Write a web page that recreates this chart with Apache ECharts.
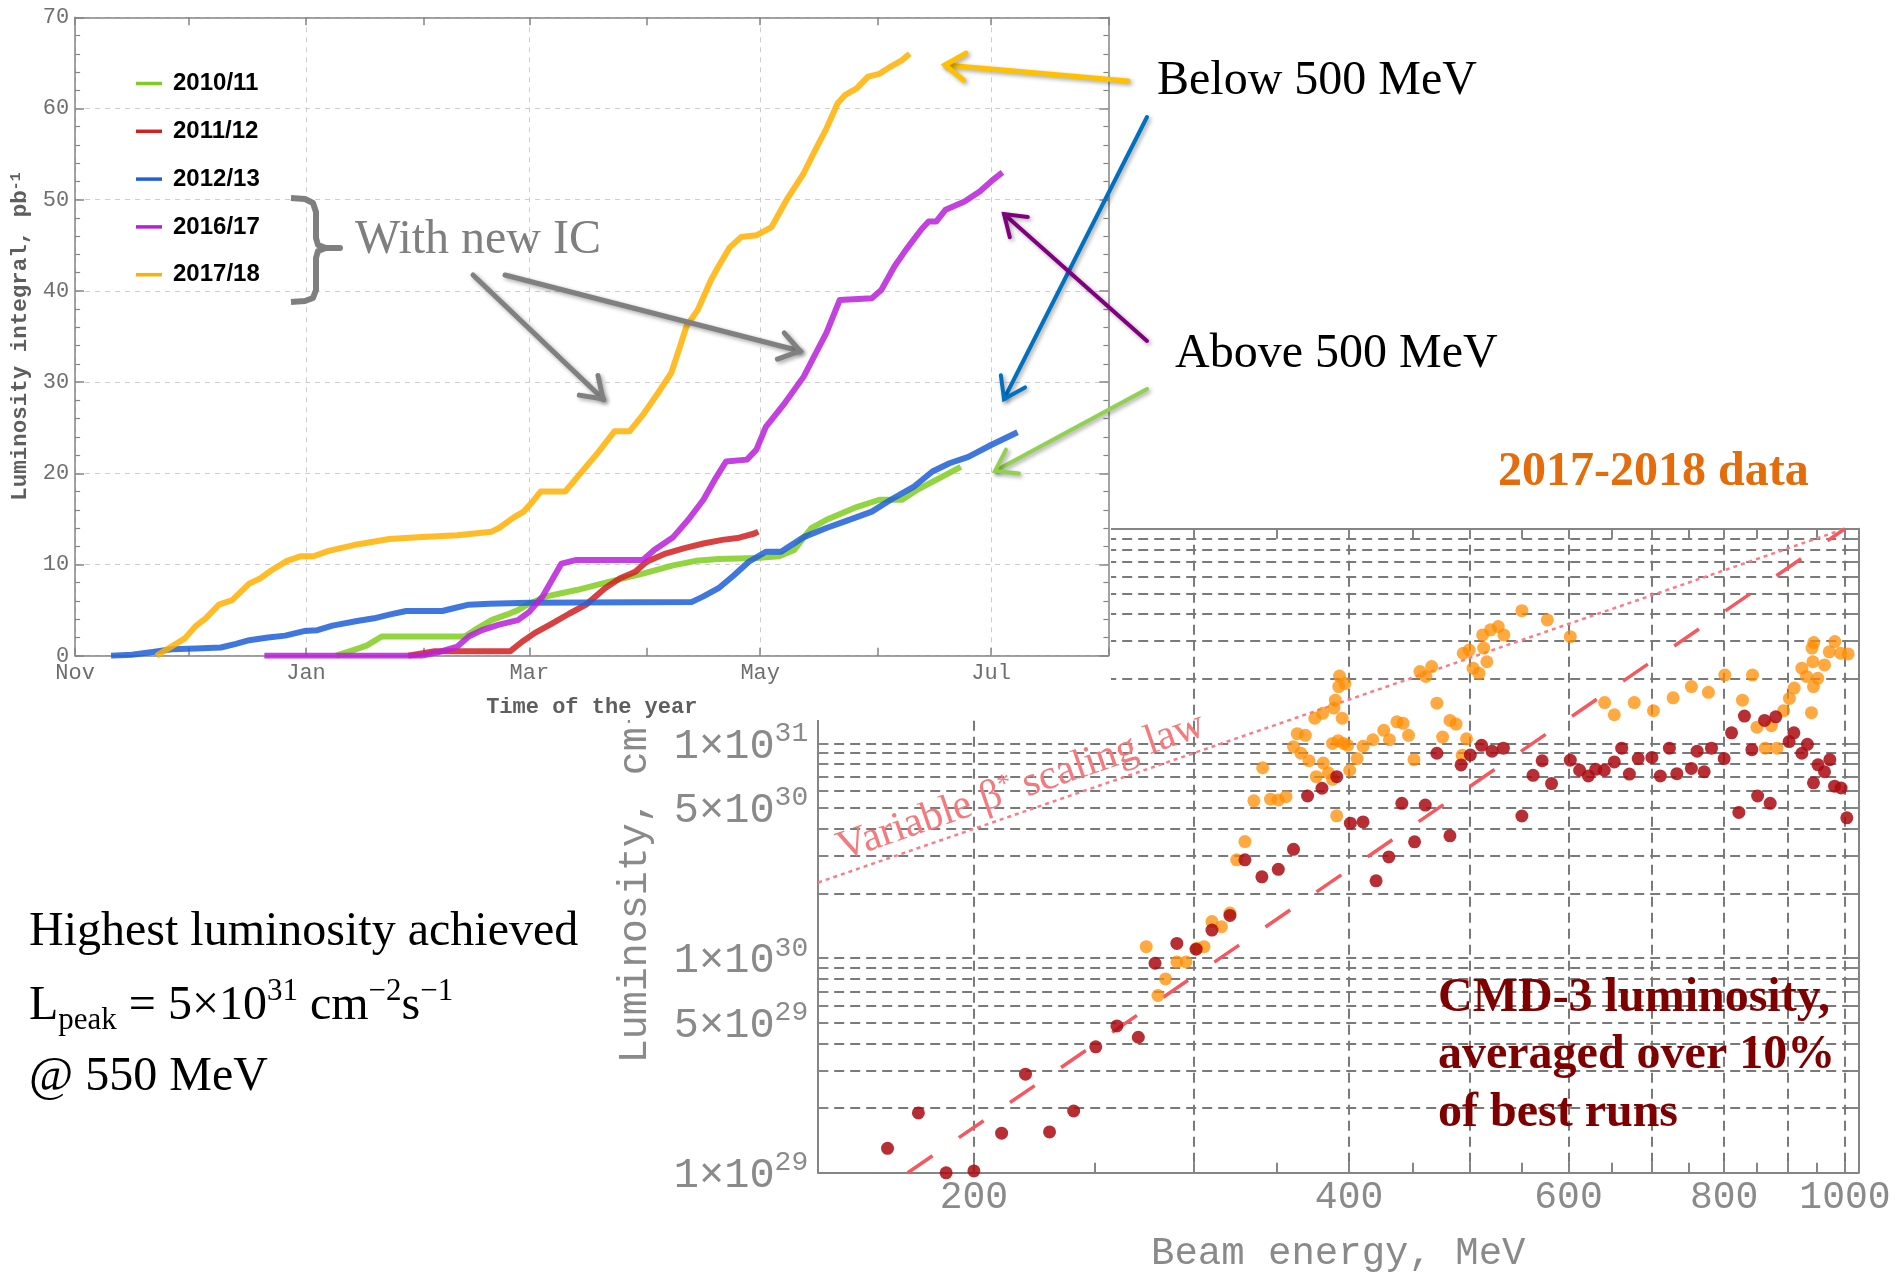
<!DOCTYPE html>
<html>
<head>
<meta charset="utf-8">
<script src="https://cdn.jsdelivr.net/npm/echarts@6/dist/echarts.min.js"></script>
<style>
html, body { margin: 0; padding: 0; background: #fff; }
#main { width: 1897px; height: 1273px; }
</style>
</head>
<body>
<div id="main"></div>
<script>
// ---------- Integrated luminosity per season: [days since 1 November, pb^-1] ----------
const seasonNames = ['2010/11', '2011/12', '2012/13', '2016/17', '2017/18'];
const seasonColors = ['#80cc20', '#d02020', '#1f5fd8', '#b820d8', '#ffb000'];

const lumi2010_11 = [[69,0],[73.5,0.6],[77,1.1],[81,2.1],[103,2.1],[105.5,2.8],[110,3.9],[114,4.5],[117,5.0],[120,5.7],[124.5,6.5],[132.5,7.2],[141,8.1],[150,9.0],[158,9.9],[164,10.4],[170,10.6],[180,10.7],[186,10.9],[190,11.6],[194.5,14.0],[198.5,14.9],[206.5,16.3],[212.5,17.1],[218.5,17.1],[222.5,18.2],[229,19.6],[234,20.7]];
const lumi2011_12 = [[88,0],[95,0.5],[115,0.5],[118,1.5],[121.5,2.5],[125.5,3.4],[130.5,4.6],[135,5.6],[140,7.4],[144,8.5],[148,9.2],[151,10.3],[156,11.2],[161,11.8],[166,12.3],[171,12.7],[175,12.9],[179.5,13.4],[180.5,13.6]];
const lumi2012_13 = [[9.5,0],[15,0.1],[20.5,0.4],[25.5,0.7],[32,0.8],[38.5,0.9],[42.5,1.3],[46,1.7],[51,2.0],[55.5,2.2],[60.5,2.7],[64,2.8],[68,3.3],[74.5,3.8],[79,4.1],[83,4.5],[87.5,4.9],[97,4.9],[100,5.2],[104,5.6],[109.5,5.7],[120,5.8],[163,5.9],[166,6.5],[170,7.4],[174,8.8],[178,10.3],[182.5,11.4],[186.5,11.4],[192.5,13.0],[198.5,14.0],[204.5,14.9],[210.5,15.8],[215.5,17.1],[221.5,18.5],[226.5,20.2],[231,21.1],[236,21.8],[242,23.1],[249,24.5]];
const lumi2016_17 = [[50,0],[91.5,0],[96,0.4],[101,1.0],[104,2.1],[107.5,2.8],[112,3.4],[117,3.9],[120,4.8],[123.5,6.5],[126,8.3],[128.5,10.1],[132.5,10.5],[150,10.5],[153,11.6],[158,13.0],[162,14.9],[166,17.1],[169,19.3],[172,21.3],[177.5,21.5],[180,22.6],[182.5,25.1],[187.5,27.7],[192.5,30.6],[195.5,33.0],[198.5,35.4],[202,39.0],[210.5,39.2],[213,40.1],[216.5,42.7],[219.5,44.5],[223.5,46.7],[225.5,47.6],[227.5,47.6],[230,48.9],[235,49.8],[239,50.9],[242,52.0],[245,53.0]];
const lumi2017_18 = [[21.5,0],[29,1.9],[32,3.3],[34.5,4.1],[38,5.6],[41.5,6.1],[46,7.9],[49,8.5],[52,9.4],[56,10.4],[59.5,10.9],[63,10.9],[67,11.5],[74.5,12.2],[83,12.8],[90.5,13.0],[101,13.2],[110,13.6],[112,14.0],[116,15.2],[118.5,15.8],[120.5,16.7],[123,18.0],[129.5,18.0],[133.5,20.0],[138,22.2],[142.5,24.6],[146.5,24.6],[150,26.4],[154,28.8],[157.5,31.0],[159.5,33.5],[161.5,36.1],[164.5,37.9],[168,41.2],[170,42.7],[173,44.8],[176,45.9],[180,46.1],[184,47.0],[188,50.0],[192.5,52.9],[195.5,55.4],[198.5,57.8],[201.5,60.6],[203.5,61.5],[206.5,62.2],[209.5,63.5],[212.5,63.8],[215.5,64.6],[218.5,65.3],[220.5,66.0]];
const seasonData = [lumi2010_11, lumi2011_12, lumi2012_13, lumi2016_17, lumi2017_18];

// Month boundaries counted in days from 1 November
const monthTickDays = [0, 30, 61, 92, 120, 151, 181, 212, 242, 273];
const monthLabelDays = [0, 61, 120, 181, 242];
const monthLabels = ['Nov', 'Jan', 'Mar', 'May', 'Jul'];

// ---------- Luminosity vs beam energy: [beam energy MeV, L in 1e30 cm^-2 s^-1] ----------
const lumi2017_2018 = [[275,1.13],[281,0.67],[285,0.80],[291,0.96],[296,0.96],[302,1.11],[306,1.13],[310.5,1.48],[316,1.40],[321,1.62],[325,2.87],[330,3.49],[335.5,5.4],[341,7.7],[346,5.5],[351,5.45],[356,5.65],[361,9.66],[363.5,11.1],[369,10.9],[366,9.0],[371.5,8.3],[376.5,7.0],[381.5,8.1],[385,7.3],[388,6.8],[391,4.6],[375.5,13.1],[381,13.8],[389,14.6],[390,15.9],[392.5,18.4],[393,20.6],[397,19.0],[395,13.1],[388,10.0],[392,10.3],[396,10.0],[399,9.8],[400.5,7.5],[406,8.5],[410.5,9.7],[418,10.4],[426.5,11.5],[431,10.4],[437,12.6],[442,12.4],[446.5,10.9],[451,8.4],[456,21.6],[461,20.5],[466,22.8],[470.5,15.4],[475.5,10.7],[482,12.8],[487.5,12.3],[493,8.8],[497,10.5],[494,26.3],[499.5,27.2],[503,22.4],[508.5,21.2],[512,32.0],[513,27.8],[516,24.0],[519.5,33.8],[527,35.0],[532.5,32.0],[550.5,41.5],[577,37.6],[602,31.4],[641.5,15.5],[653,13.6],[677.5,15.5],[702,14.2],[728,16.3],[753,18.4],[777,17.3],[801,20.8],[827.5,15.9],[843,20.8],[850,11.9],[863,9.5],[873,12.1],[882,9.5],[893,14.2],[902.5,16.2],[910.5,18.1],[923.5,22.4],[931.5,20.5],[940,13.9],[941,27.8],[942.5,24.0],[944,29.5],[943.5,18.4],[951,20.1],[963,23.2],[971.5,26.7],[981.5,29.8],[992,26.3],[1006,26.1]];
const lumiBestRuns = [[170.5,0.130],[180.5,0.190],[190,0.100],[200,0.102],[210.5,0.153],[220,0.288],[230,0.155],[240.5,0.194],[250.5,0.386],[260.5,0.483],[271,0.428],[279.5,0.946],[291,1.17],[301.5,1.10],[310.5,1.35],[321,1.58],[330,2.87],[340.5,2.39],[351,2.59],[361,3.21],[370.5,5.69],[380.5,6.18],[391,7.0],[401,4.25],[410.5,4.31],[420.5,2.29],[430.5,2.96],[441,5.26],[451.5,3.48],[460.5,5.16],[470.5,9.0],[482,3.71],[492,7.94],[500.5,8.83],[511,9.8],[521,9.2],[532,9.5],[550.5,4.59],[562,7.1],[571.5,8.3],[581.5,6.5],[602,8.35],[612.5,7.5],[622.5,7.05],[631,7.57],[641,7.5],[653,8.2],[662,9.5],[671.5,7.2],[682.5,8.5],[700,8.6],[711,7.05],[723,9.5],[733,7.23],[753,7.65],[761,9.2],[771,7.38],[781.5,9.5],[800,8.5],[811,11.2],[822,4.77],[830.5,13.4],[842,9.35],[851,5.69],[862,12.8],[871,5.26],[880,13.3],[902,10.2],[910,11.2],[923.5,9.0],[933,9.9],[943.5,6.55],[951.5,7.95],[963,7.38],[972.5,8.4],[981,6.32],[993,6.2],[1003.5,4.5]];
// Variable beta* scaling laws (straight lines in log-log)
const scalingLawDotted = [[150, 2.25], [1000, 100]];
const scalingLawDashed = [[177, 0.1], [1000, 100]];

const energyTickValues = [150, 200, 250, 300, 350, 400, 450, 500, 550, 600, 650, 700, 750, 800, 850, 900, 950, 1000];
const energyGridValues = [200, 300, 400, 500, 600, 700, 800, 900, 1000];
const energyLabelValues = [200, 400, 600, 800, 1000];
const lumiGridValues = [0.1, 0.2, 0.3, 0.4, 0.5, 0.6, 0.7, 0.8, 0.9, 1, 2, 3, 4, 5, 6, 7, 8, 9, 10, 20, 30, 40, 50, 60, 70, 80, 90, 100];
const lumiLabelValues = [0.1, 0.5, 1, 5, 10, 50, 100];

// ---------- helpers ----------
const lg = Math.log10;
const toLogXY = pts => pts.map(([e, l]) => [lg(e), lg(l) + 30]);
const lumiExp = l => lg(l) + 30;
const monthNameByDay = {};
monthLabelDays.forEach((d, i) => { monthNameByDay[d] = monthLabels[i]; });

const mono = 'Liberation Mono';
const serif = 'Liberation Serif';
const frameGray = '#858585';
const labelGray = '#8a8a8a';

const eMin = lg(150), eMax = lg(1025);
const lMin = 29 - 1e-7, lMax = 32 + 1e-7;

function arrow(x1, y1, x2, y2, color, width) {
  const ang = Math.atan2(y2 - y1, x2 - x1);
  const head = 24, spread = 0.6;
  const p1 = [x2 - head * Math.cos(ang - spread), y2 - head * Math.sin(ang - spread)];
  const p2 = [x2 - head * Math.cos(ang + spread), y2 - head * Math.sin(ang + spread)];
  const look = { stroke: color, lineWidth: width, lineCap: 'round', lineJoin: 'miter',
    shadowBlur: 4, shadowColor: 'rgba(0,0,0,0.35)', shadowOffsetX: 2, shadowOffsetY: 2 };
  return [
    { type: 'line', z: 20, silent: true, shape: { x1, y1, x2, y2 }, style: look },
    { type: 'polyline', z: 20, silent: true, shape: { points: [p1, [x2, y2], p2] }, style: Object.assign({ fill: null }, look) }
  ];
}

function textEl(x, y, text, size, color, extra) {
  return { type: 'text', x, y, z: 20, silent: true,
    style: Object.assign({ text, fontFamily: serif, fontSize: size, fill: color, align: 'left', verticalAlign: 'middle' }, extra || {}) };
}

const graphics = [
  // white backing of the season plot, laid over the energy plot
  { type: 'rect', z: 10, silent: true, shape: { x: 0, y: 0, width: 1111, height: 720 }, style: { fill: '#fff' } },
  // brace grouping the two newest seasons
  { type: 'polyline', z: 20, silent: true,
    shape: { points: [[291,198],[305,199],[313,203],[316,212],[316,238],[318,245],[326,248],[340,248],[326,248],[318,251],[316,258],[316,290],[313,298],[305,301],[291,302]] },
    style: { stroke: '#7f7f7f', lineWidth: 6, fill: null, lineJoin: 'round', lineCap: 'butt' } },
  textEl(355, 240, 'With new IC', 48, '#7f7f7f'),
  textEl(1157, 81, 'Below 500 MeV', 48, '#000'),
  textEl(1175, 354, 'Above 500 MeV', 48, '#000'),
  textEl(1498, 473, '2017-2018 data', 48, '#e46c0a', { fontWeight: 'bold' }),
  textEl(1438, 1056, 'CMD-3 luminosity,\naveraged over 10%\nof best runs', 48, '#7f0000', { fontWeight: 'bold', lineHeight: 57.5 }),
  textEl(29, 932, 'Highest luminosity achieved', 48, '#000'),
  textEl(29, 1006, '{m|L}{sub|peak}{m| = 5×10}{sup|31}{m| cm}{sup|−2}{m|s}{sup|−1}', 48, '#000', {
    rich: {
      m: { fontFamily: serif, fontSize: 48, lineHeight: 60, fill: '#000' },
      sub: { fontFamily: serif, fontSize: 31, lineHeight: 30, verticalAlign: 'bottom', fill: '#000' },
      sup: { fontFamily: serif, fontSize: 31, lineHeight: 30, verticalAlign: 'top', fill: '#000' }
    }
  }),
  textEl(29, 1077, '@ 550 MeV', 48, '#000'),
  { type: 'text', x: 1021, y: 787, z: 20, silent: true, rotation: 19 * Math.PI / 180,
    style: { text: 'Variable β{s|*} scaling law', fontFamily: serif, fontSize: 42, fill: '#f47a7e', align: 'center', verticalAlign: 'middle',
      rich: { s: { fontFamily: serif, fontSize: 27, lineHeight: 26, verticalAlign: 'top', fill: '#f47a7e' } } } }
].concat(
  arrow(473, 275, 603, 399, '#808080', 5),
  arrow(505, 275, 800, 351, '#808080', 5),
  arrow(1128, 81, 945, 65, '#ffc000', 5),
  arrow(1147, 117, 1004, 399, '#0070c0', 4),
  arrow(1147, 341, 1004, 214, '#800080', 4),
  arrow(1147, 389, 995, 471, '#92d050', 4)
);

// ---------- axes ----------
const topTickStyle = { color: frameGray, width: 1.5 };
const xAxes = [
  { // season plot: monthly ticks + bottom frame
    type: 'value', gridIndex: 0, position: 'bottom', min: 0, max: 273, z: 11,
    axisLine: { show: true, onZero: false, lineStyle: { color: frameGray, width: 1.5 } },
    axisTick: { show: true, inside: true, length: 8, customValues: monthTickDays, lineStyle: topTickStyle },
    axisLabel: { show: false }, splitLine: { show: false }
  },
  { // season plot: month labels and grid
    type: 'value', gridIndex: 0, position: 'bottom', min: 0, max: 273, z: 11,
    axisLine: { show: false }, axisTick: { show: false, customValues: monthLabelDays },
    axisLabel: { show: true, customValues: monthLabelDays, showMinLabel: true, showMaxLabel: true,
      formatter: v => monthNameByDay[Math.round(v)] || '', fontFamily: mono, fontSize: 22, color: '#6e6e6e', margin: 6 },
    splitLine: { show: true, lineStyle: { color: '#cdcdcd', type: [5, 5], width: 1 } },
    name: 'Time of the year', nameLocation: 'middle', nameGap: 41,
    nameTextStyle: { fontFamily: mono, fontWeight: 'bold', fontSize: 22, color: '#5e5e5e' }
  },
  { // season plot: top frame
    type: 'value', gridIndex: 0, position: 'top', min: 0, max: 273, z: 11,
    axisLine: { show: true, onZero: false, lineStyle: { color: frameGray, width: 1.5 } },
    axisTick: { show: true, inside: true, length: 8, customValues: monthTickDays, lineStyle: topTickStyle },
    axisLabel: { show: false }, splitLine: { show: false }
  },
  { // energy plot: bottom frame, 50 MeV ticks, labels
    type: 'value', gridIndex: 1, position: 'bottom', min: eMin, max: eMax, z: 1,
    axisLine: { show: true, onZero: false, lineStyle: { color: frameGray, width: 2 } },
    axisTick: { show: true, inside: true, length: 10, customValues: energyTickValues.map(lg), lineStyle: { color: frameGray, width: 2 } },
    axisLabel: { show: true, customValues: energyLabelValues.map(lg), showMinLabel: true, showMaxLabel: true,
      formatter: v => String(Math.round(Math.pow(10, v))), fontFamily: mono, fontSize: 38, color: labelGray, margin: 6 },
    splitLine: { show: false },
    name: 'Beam energy, MeV', nameLocation: 'middle', nameGap: 61,
    nameTextStyle: { fontFamily: mono, fontSize: 39, color: labelGray }
  },
  { // energy plot: vertical grid every 100 MeV
    type: 'value', gridIndex: 1, position: 'bottom', min: eMin, max: eMax, z: 1,
    axisLine: { show: false }, axisTick: { show: false, customValues: energyGridValues.map(lg) },
    axisLabel: { show: false },
    splitLine: { show: true, lineStyle: { color: '#7a7a7a', type: [10, 6], width: 2 } }
  },
  { // energy plot: top frame
    type: 'value', gridIndex: 1, position: 'top', min: eMin, max: eMax, z: 1,
    axisLine: { show: true, onZero: false, lineStyle: { color: frameGray, width: 2 } },
    axisTick: { show: true, inside: true, length: 10, customValues: energyTickValues.map(lg), lineStyle: { color: frameGray, width: 2 } },
    axisLabel: { show: false }, splitLine: { show: false }
  }
];

const supFormatter = v => {
  const exp = Math.floor(v + 1e-6);
  const mant = Math.round(Math.pow(10, v - exp));
  return '{m|' + mant + '×10}{e|' + exp + '}';
};

const yAxes = [
  { // season plot: left
    type: 'value', gridIndex: 0, position: 'left', min: 0, max: 70, interval: 10, z: 11,
    axisLine: { show: true, onZero: false, lineStyle: { color: frameGray, width: 1.5 } },
    axisTick: { show: true, inside: true, length: 9, lineStyle: topTickStyle },
    minorTick: { show: true, splitNumber: 5, length: 5, lineStyle: { color: frameGray, width: 1.2 } },
    axisLabel: { show: true, fontFamily: mono, fontSize: 22, color: '#6e6e6e', margin: 6, showMinLabel: true, showMaxLabel: true },
    splitLine: { show: true, lineStyle: { color: '#cdcdcd', type: [5, 5], width: 1 } },
    name: 'Luminosity integral, pb{s|-1}', nameLocation: 'middle', nameGap: 42,
    nameTextStyle: { fontFamily: mono, fontWeight: 'bold', fontSize: 22.5, color: '#5e5e5e',
      rich: { s: { fontFamily: mono, fontWeight: 'bold', fontSize: 15, lineHeight: 14, verticalAlign: 'top', color: '#5e5e5e' } } }
  },
  { // season plot: right frame
    type: 'value', gridIndex: 0, position: 'right', min: 0, max: 70, interval: 10, z: 11,
    axisLine: { show: true, onZero: false, lineStyle: { color: frameGray, width: 1.5 } },
    axisTick: { show: true, inside: true, length: 9, lineStyle: topTickStyle },
    minorTick: { show: true, splitNumber: 5, length: 5, lineStyle: { color: frameGray, width: 1.2 } },
    axisLabel: { show: false }, splitLine: { show: false }
  },
  { // energy plot: left, log luminosity
    type: 'value', gridIndex: 1, position: 'left', min: lMin, max: lMax, z: 1,
    axisLine: { show: true, onZero: false, lineStyle: { color: frameGray, width: 2 } },
    axisTick: { show: true, inside: true, length: 10, customValues: lumiGridValues.map(lumiExp), lineStyle: { color: frameGray, width: 2 } },
    axisLabel: { show: true, customValues: lumiLabelValues.map(lumiExp), showMinLabel: true, showMaxLabel: true,
      formatter: supFormatter, margin: 10,
      rich: {
        m: { fontFamily: mono, fontSize: 42, lineHeight: 48, verticalAlign: 'bottom', color: labelGray },
        e: { fontFamily: mono, fontSize: 28, lineHeight: 28, verticalAlign: 'top', color: labelGray }
      } },
    splitLine: { show: true, lineStyle: { color: '#7a7a7a', type: [10, 6], width: 2 } },
    name: 'Luminosity, cm{s|-2}s{s|-1}', nameLocation: 'middle', nameGap: 163,
    nameTextStyle: { fontFamily: mono, fontSize: 40, color: labelGray,
      rich: { s: { fontFamily: mono, fontSize: 27, lineHeight: 27, verticalAlign: 'top', color: labelGray } } }
  },
  { // energy plot: right frame
    type: 'value', gridIndex: 1, position: 'right', min: lMin, max: lMax, z: 1,
    axisLine: { show: true, onZero: false, lineStyle: { color: frameGray, width: 2 } },
    axisTick: { show: true, inside: true, length: 10, customValues: lumiGridValues.map(lumiExp), lineStyle: { color: frameGray, width: 2 } },
    axisLabel: { show: false }, splitLine: { show: false }
  }
];

// ---------- series ----------
const seasonSeries = seasonNames.map((name, i) => ({
  name, type: 'line', xAxisIndex: 0, yAxisIndex: 0, z: 12,
  data: seasonData[i], showSymbol: false, symbol: 'none',
  lineStyle: { color: seasonColors[i], width: 6, opacity: 0.85, join: 'round' },
  itemStyle: { color: seasonColors[i] },
  emphasis: { disabled: true }
}));

const energySeries = [
  { name: 'Scaling law (dotted)', type: 'line', xAxisIndex: 3, yAxisIndex: 2, z: 2,
    data: toLogXY(scalingLawDotted), showSymbol: false, symbol: 'none',
    lineStyle: { color: '#ff7a86', width: 2.5, type: [4, 4] }, emphasis: { disabled: true } },
  { name: 'Scaling law (dashed)', type: 'line', xAxisIndex: 3, yAxisIndex: 2, z: 2,
    data: toLogXY(scalingLawDashed), showSymbol: false, symbol: 'none',
    lineStyle: { color: '#f5585e', width: 3.5, type: [30, 32] }, emphasis: { disabled: true } },
  { name: '2017-2018 data', type: 'scatter', xAxisIndex: 3, yAxisIndex: 2, z: 3,
    data: toLogXY(lumi2017_2018), symbolSize: 13,
    itemStyle: { color: '#ff8c00', opacity: 0.75 }, emphasis: { disabled: true } },
  { name: 'Best 10% of runs', type: 'scatter', xAxisIndex: 3, yAxisIndex: 2, z: 4,
    data: toLogXY(lumiBestRuns), symbolSize: 13,
    itemStyle: { color: '#aa0a10', opacity: 0.85 }, emphasis: { disabled: true } }
];

const chart = echarts.init(document.getElementById('main'), null, { renderer: 'canvas', width: 1897, height: 1273 });
chart.setOption({
  animation: false,
  backgroundColor: '#fff',
  textStyle: { fontFamily: mono },
  grid: [
    { left: 75.1, top: 17.3, width: 1033.3, height: 638.4, outerBoundsMode: 'none', containLabel: false },
    { left: 818.2, top: 528.7, width: 1040.1, height: 644.1, outerBoundsMode: 'none', containLabel: false }
  ],
  legend: {
    data: seasonNames, orient: 'vertical', left: 136, top: 68.5, padding: 0, z: 13,
    icon: 'rect', itemWidth: 26, itemHeight: 3.5, itemGap: 17.8, selectedMode: false,
    textStyle: { fontFamily: 'Liberation Sans', fontWeight: 'bold', fontSize: 24, color: '#000', lineHeight: 30, padding: [0, 0, 0, 6] }
  },
  xAxis: xAxes,
  yAxis: yAxes,
  series: energySeries.concat(seasonSeries),
  graphic: { elements: graphics }
});
</script>
</body>
</html>
